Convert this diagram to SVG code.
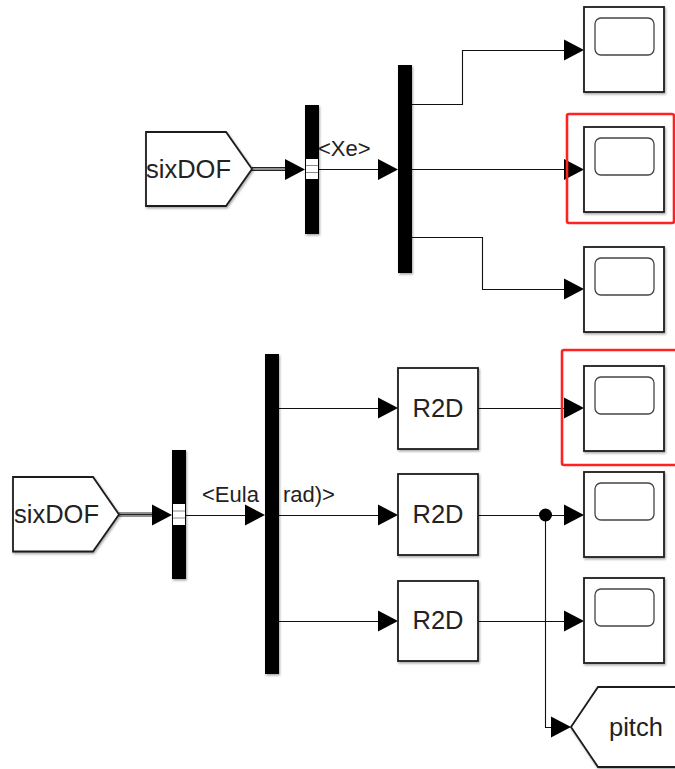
<svg xmlns="http://www.w3.org/2000/svg" width="675" height="769" viewBox="0 0 675 769">
<style>
text{font-family:"Liberation Sans",Arial,sans-serif;fill:#222}
.block{fill:#fff;stroke:#1c1c1c;stroke-width:1.8;filter:url(#sh)}
.screen{fill:#fff;stroke:#444;stroke-width:1.3}
.bar{fill:#000;filter:url(#sh)}
.wire{fill:none;stroke:#111;stroke-width:1.1}
.bus{fill:none;stroke:#222;stroke-width:1}
.head{fill:#000}
.port{fill:#fff}
.portline{stroke:#888;stroke-width:1}
.red{fill:none;stroke:#f22;stroke-width:2.6}
.big{font-size:25.500px}
.lab{font-size:22px}
</style>
<defs>
<filter id="sh" x="-20%" y="-20%" width="140%" height="140%"><feDropShadow dx="1" dy="1.500" stdDeviation="1" flood-color="#000" flood-opacity="0.350"/></filter>
<g id="scope"><rect class="block" x="0" y="0" width="80" height="85"/><rect class="screen" x="11" y="11" width="59" height="37" rx="6"/></g>
<polygon id="ah" class="head" points="-20,-10.500 0,0 -20,10.500"/>
</defs>
<g id="connectors">
<path class="wire" d="M412 104.500H462.500V50.500H566"/>
<path class="wire" d="M412 169.500H566"/>
<path class="wire" d="M412 237.500H482.500V289.500H566"/>
<path class="bus" d="M252 167.500H286M252 169H286M252 170.500H286"/>
<path class="wire" d="M319 169.500H380"/>
<path class="bus" d="M119 513H153M119 514.500H153M119 516H153"/>
<path class="wire" d="M186 515.500H248"/>
<path class="wire" d="M279 408.500H380"/>
<path class="wire" d="M279 515.500H380"/>
<path class="wire" d="M279 621.500H380"/>
<path class="wire" d="M478 408.500H566"/>
<path class="wire" d="M478 515.500H566"/>
<path class="wire" d="M478 621.500H566"/>
<path class="wire" d="M545.500 515V727.500H552"/>
<circle class="head" cx="545.500" cy="515" r="6.500"/>
<use href="#ah" x="584" y="50"/>
<use href="#ah" x="584" y="169.500"/>
<use href="#ah" x="584" y="289"/>
<use href="#ah" x="305" y="169.500"/>
<use href="#ah" x="398" y="169.500"/>
<use href="#ah" x="172" y="515"/>
<use href="#ah" x="265" y="515"/>
<use href="#ah" x="398" y="408"/>
<use href="#ah" x="398" y="515"/>
<use href="#ah" x="398" y="621"/>
<use href="#ah" x="584" y="408"/>
<use href="#ah" x="584" y="515"/>
<use href="#ah" x="584" y="621"/>
<use href="#ah" x="571" y="727"/>
</g>
<g id="from1"><polygon class="block" points="146,132 226,132 252,169 226,206 146,206"/><text class="big" x="146" y="178">sixDOF</text></g>
<g id="selector1"><rect class="bar" x="305" y="105" width="14" height="129"/><rect class="port" x="306" y="159" width="12" height="20"/><path class="portline" d="M306 165.500H318M306 172.500H318"/></g>
<g id="demux1"><rect class="bar" x="398" y="65" width="14" height="208"/></g>
<text id="label-xe" class="lab" x="318" y="156">&lt;Xe&gt;</text>
<g id="scope1"><use href="#scope" x="584" y="7"/></g>
<g id="scope2"><use href="#scope" x="584" y="127"/></g>
<g id="scope3"><use href="#scope" x="584" y="247"/></g>
<rect id="highlight1" class="red" x="567" y="114" width="107" height="109" rx="2"/>
<g id="from2"><polygon class="block" points="13,477 93,477 119,514.500 93,551.500 13,551.500"/><text class="big" x="14" y="523">sixDOF</text></g>
<g id="selector2"><rect class="bar" x="172" y="450" width="14" height="129"/><rect class="port" x="173" y="504" width="12" height="21"/><path class="portline" d="M173 511H185M173 518H185"/></g>
<text id="label-eul" class="lab" x="202" y="502">&lt;Eula</text>
<g id="demux2"><rect class="bar" x="265" y="354" width="14" height="320"/></g>
<text id="label-eul2" class="lab" x="283" y="502">rad)&gt;</text>
<g id="r2d1"><rect class="block" x="398" y="368" width="80" height="81"/><text class="big" x="438" y="417" text-anchor="middle">R2D</text></g>
<g id="r2d2"><rect class="block" x="398" y="474" width="80" height="81"/><text class="big" x="438" y="523" text-anchor="middle">R2D</text></g>
<g id="r2d3"><rect class="block" x="398" y="581" width="80" height="80"/><text class="big" x="438" y="629" text-anchor="middle">R2D</text></g>
<g id="scope4"><use href="#scope" x="584" y="366"/></g>
<g id="scope5"><use href="#scope" x="584" y="472"/></g>
<g id="scope6"><use href="#scope" x="584" y="578"/></g>
<rect id="highlight2" class="red" x="562" y="350" width="120" height="115" rx="2"/>
<g id="goto"><polygon class="block" points="680,687 598,687 571,727 598,767 680,767"/><text class="big" x="609" y="736">pitch</text></g>
</svg>
